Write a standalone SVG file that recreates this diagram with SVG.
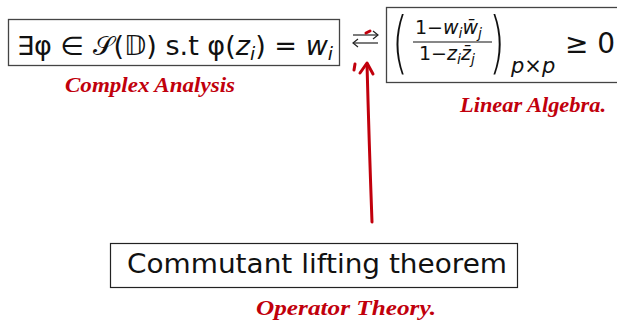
<svg xmlns="http://www.w3.org/2000/svg" width="617" height="322" viewBox="0 0 617 322">
<style>
.box{fill:#fff;stroke:#444;stroke-width:1.3}
.box3{fill:#fff;stroke:#222;stroke-width:1.2}
.m{font-family:"DejaVu Sans","Liberation Sans",sans-serif;fill:#111}
.i{font-style:italic}
.hand{font-family:"Liberation Serif",serif;font-style:italic;font-weight:bold;fill:#c1000c}
.red{stroke:#c1000c;stroke-width:3;fill:none;stroke-linecap:round;stroke-linejoin:round}
</style>
<rect width="617" height="322" fill="#fff"/>
<g id="node-interp">
<rect class="box" x="8.5" y="19.5" width="331" height="46"/>
<text class="m" x="17" y="55" font-size="26" textLength="316" lengthAdjust="spacingAndGlyphs">∃φ ∈ 𝒮(𝔻) s.t φ(<tspan class="i">z</tspan><tspan class="i" font-size="18" dy="5">i</tspan><tspan dy="-5">) = </tspan><tspan class="i">w</tspan><tspan class="i" font-size="18" dy="5">i</tspan></text>
</g>
<g id="node-pick">
<rect class="box" x="386.5" y="7.5" width="232" height="75"/>
<text class="m" x="392" y="66" font-size="68" font-weight="200" transform="translate(392 66) scale(0.6 1) translate(-392 -66)">(</text>
<text class="m" x="415" y="34" font-size="19">1−<tspan class="i">w</tspan><tspan class="i" font-size="14" dy="4">i</tspan><tspan class="i" dy="-4">w̄</tspan><tspan class="i" font-size="14" dy="4">j</tspan></text>
<line x1="413" y1="42" x2="492" y2="42" stroke="#111" stroke-width="1.2"/>
<text class="m" x="419" y="60" font-size="19">1−<tspan class="i">z</tspan><tspan class="i" font-size="14" dy="4">i</tspan><tspan class="i" dy="-4">z̄</tspan><tspan class="i" font-size="14" dy="4">j</tspan></text>
<text class="m" x="489" y="66" font-size="68" font-weight="200" transform="translate(489 66) scale(0.6 1) translate(-489 -66)">)</text>
<text class="m i" x="511" y="73" font-size="21">p×p</text>
<text class="m" x="565" y="53" font-size="28">≥ 0</text>
</g>
<g id="node-clt">
<rect class="box3" x="110.5" y="243.5" width="407" height="44"/>
<text class="m" x="127" y="273" font-size="26" textLength="380" lengthAdjust="spacingAndGlyphs">Commutant lifting theorem</text>
</g>
<g id="connectors">
<line x1="353" y1="35" x2="378" y2="35" stroke="#222" stroke-width="1.2"/>
<path d="M373 31 L378 35 L373 39" stroke="#222" stroke-width="1.2" fill="none"/>
<line x1="353" y1="43" x2="378" y2="43" stroke="#222" stroke-width="1.2"/>
<path d="M358 39 L353 43 L358 47" stroke="#222" stroke-width="1.2" fill="none"/>
<path class="red" d="M366 33 L370 31" stroke-width="2.5"/>
<path class="red" d="M372 222 Q369 140 367 64"/>
<path class="red" d="M360 73 L367 63 L373 74"/>
<path class="red" d="M355 64 L354 70" stroke-width="2"/>
</g>
<g id="labels">
<text class="hand" x="65" y="92" font-size="22" textLength="170" lengthAdjust="spacingAndGlyphs">Complex Analysis</text>
<text class="hand" x="460" y="112" font-size="21" textLength="146" lengthAdjust="spacingAndGlyphs">Linear Algebra.</text>
<text class="hand" x="256" y="315" font-size="22" textLength="180" lengthAdjust="spacingAndGlyphs">Operator Theory.</text>
</g>
</svg>
